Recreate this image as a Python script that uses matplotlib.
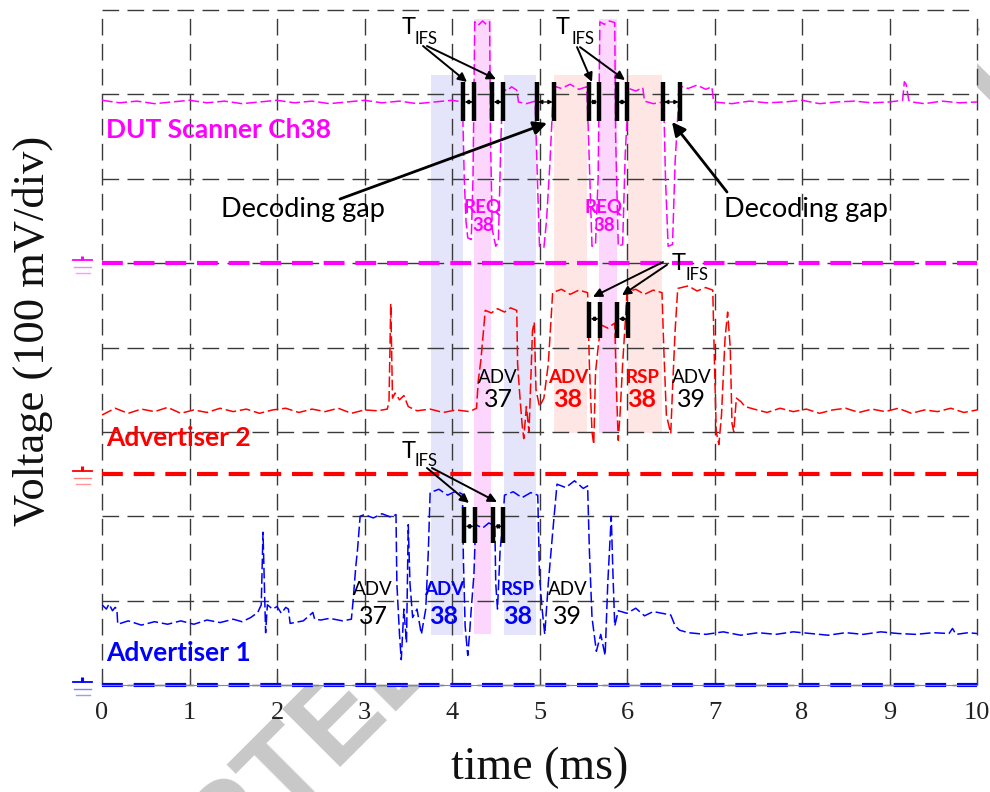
import matplotlib
matplotlib.use("Agg")
import matplotlib.pyplot as plt
from matplotlib.patches import Rectangle

# ---------------- data ----------------
time_ticks = [0, 1, 2, 3, 4, 5, 6, 7, 8, 9, 10]
n_div = 8

# ground reference levels (divisions)
dut_ground = 5.0
adv2_ground = 2.5
adv1_ground = 0.0

# DUT scanner (channel 38) trace, in divisions
dut_t = [0.00, 0.20, 0.40, 0.60, 0.80, 1.00, 1.20, 1.40, 1.60, 1.80, 2.00, 2.20, 2.40, 2.60, 2.80, 3.00, 3.20, 3.40, 3.60, 3.80, 4.00, 4.12,
         4.14, 4.16, 4.18, 4.22, 4.24, 4.26, 4.30, 4.35, 4.39, 4.43, 4.44, 4.46, 4.50, 4.53, 4.56, 4.58, 4.63, 4.68, 4.74, 4.76, 4.85, 4.95,
         4.97, 5.00, 5.05, 5.08, 5.12, 5.16, 5.25, 5.35, 5.45, 5.54, 5.56, 5.60, 5.64, 5.67, 5.69, 5.74, 5.80, 5.86, 5.87, 5.90, 5.95, 5.98, 6.02, 6.10, 6.18, 6.20, 6.30, 6.42,
         6.44, 6.47, 6.52, 6.55, 6.60, 6.70, 6.80, 6.90, 6.97, 6.99, 7.20, 7.40, 7.60, 7.80, 8.00, 8.20, 8.40, 8.60, 8.80, 9.00, 9.15, 9.17, 9.19, 9.22, 9.25, 9.40, 9.60, 9.80, 10.00]
dut_v = [6.93, 6.90, 6.92, 6.89, 6.91, 6.93, 6.90, 6.92, 6.89, 6.91, 6.93, 6.90, 6.92, 6.89, 6.91, 6.93, 6.90, 6.92, 6.89, 6.91, 6.93, 6.91,
         6.00, 5.50, 5.30, 5.28, 6.00, 7.86, 7.82, 7.87, 7.83, 7.86, 6.50, 5.40, 5.20, 5.25, 6.50, 7.07, 7.04, 7.09, 7.05, 6.91, 6.89, 6.92,
         6.20, 5.20, 5.18, 5.50, 6.20, 7.10, 7.07, 7.12, 7.06, 7.09, 6.50, 5.20, 5.22, 6.00, 7.86, 7.83, 7.87, 7.85, 6.50, 5.20, 5.22, 6.30, 7.07, 7.04, 7.08, 6.92, 6.89, 6.91,
         6.00, 5.20, 5.22, 6.20, 7.10, 7.07, 7.11, 7.06, 7.09, 6.91, 6.89, 6.92, 6.90, 6.91, 6.93, 6.89, 6.91, 6.92, 6.90, 6.91, 6.93, 7.15, 7.12, 6.93, 6.91, 6.89, 6.92, 6.90, 6.91]

# Advertiser 2 trace
adv2_t = [0.00, 0.15, 0.30, 0.45, 0.60, 0.75, 0.90, 1.05, 1.20, 1.35, 1.50, 1.65, 1.80, 1.95, 2.10, 2.25, 2.40, 2.55, 2.70, 2.85, 3.00, 3.15, 3.26,
          3.28, 3.30, 3.32, 3.35, 3.40, 3.45, 3.50, 3.60, 3.75, 3.90, 4.05, 4.20, 4.28, 4.30, 4.33, 4.36, 4.38, 4.45, 4.52, 4.60, 4.67, 4.74,
          4.75, 4.77, 4.80, 4.82, 4.85, 4.88, 4.92, 4.94, 4.96, 5.00, 5.05, 5.10, 5.13, 5.15, 5.25, 5.35, 5.45, 5.55, 5.57, 5.60, 5.62, 5.64, 5.67, 5.70, 5.78, 5.86,
          5.88, 5.90, 5.92, 5.95, 5.98, 6.00, 6.10, 6.20, 6.30, 6.40, 6.42, 6.45, 6.50, 6.52, 6.55, 6.58, 6.70, 6.80, 6.90, 6.98,
          7.00, 7.02, 7.05, 7.08, 7.12, 7.15, 7.18, 7.20, 7.22, 7.25, 7.30, 7.35, 7.45, 7.60, 7.75, 7.90, 8.05, 8.20, 8.35, 8.50, 8.65, 8.80, 8.95, 9.10, 9.25, 9.40, 9.55, 9.70, 9.85, 10.00]
adv2_v = [3.20, 3.28, 3.22, 3.27, 3.24, 3.29, 3.22, 3.26, 3.23, 3.28, 3.24, 3.27, 3.22, 3.26, 3.28, 3.23, 3.27, 3.24, 3.28, 3.22, 3.26, 3.25, 3.27,
          3.35, 4.52, 3.40, 3.46, 3.38, 3.43, 3.30, 3.25, 3.27, 3.23, 3.26, 3.24, 3.28, 3.60, 3.85, 4.20, 4.44, 4.41, 4.46, 4.42, 4.47, 4.44,
          3.80, 3.50, 3.10, 2.92, 3.30, 3.00, 4.20, 4.30, 3.50, 3.30, 3.40, 3.80, 4.30, 4.65, 4.69, 4.63, 4.68, 4.65, 3.80, 3.00, 2.85, 3.70, 4.00, 4.27, 4.23, 4.29,
          3.50, 2.90, 3.20, 3.80, 4.30, 4.66, 4.69, 4.63, 4.68, 4.65, 4.00, 3.20, 2.98, 3.50, 4.20, 4.70, 4.73, 4.67, 4.71, 4.68,
          3.80, 3.00, 2.85, 3.20, 4.10, 4.42, 4.00, 3.10, 3.00, 3.40, 3.36, 3.30, 3.27, 3.23, 3.28, 3.24, 3.27, 3.22, 3.26, 3.28, 3.23, 3.27, 3.24, 3.28, 3.22, 3.26, 3.24, 3.28, 3.23, 3.26]

# Advertiser 1 trace
adv1_t = [0.00, 0.05, 0.08, 0.12, 0.15, 0.17, 0.18, 0.30, 0.45, 0.60, 0.75, 0.90, 1.05, 1.20, 1.35, 1.50, 1.60, 1.70, 1.78, 1.82,
          1.84, 1.86, 1.87, 1.89, 1.95, 2.00, 2.05, 2.10, 2.13, 2.15, 2.30, 2.41, 2.43, 2.50, 2.60, 2.75, 2.85,
          2.87, 2.90, 2.92, 2.95, 3.00, 3.10, 3.20, 3.30, 3.36, 3.37, 3.40, 3.42, 3.45, 3.48, 3.50, 3.52, 3.55, 3.60, 3.65, 3.70, 3.73,
          3.75, 3.85, 3.95, 4.05, 4.12, 4.13, 4.15, 4.18, 4.20, 4.22, 4.25, 4.27, 4.35, 4.42, 4.49, 4.50, 4.52, 4.55, 4.58,
          4.60, 4.70, 4.80, 4.90, 4.98, 5.00, 5.03, 5.06, 5.10, 5.15, 5.20, 5.30, 5.40, 5.50, 5.55, 5.57, 5.60, 5.65, 5.70, 5.75, 5.78, 5.82, 5.84, 5.86,
          5.90, 6.00, 6.10, 6.20, 6.30, 6.40, 6.50, 6.55, 6.60, 6.70, 6.90, 7.10, 7.30, 7.50, 7.70, 7.90, 8.10, 8.30, 8.50, 8.70, 8.90, 9.10, 9.30, 9.50, 9.68, 9.72, 9.76, 9.90, 10.00]
adv1_v = [0.95, 0.90, 0.96, 0.88, 0.92, 0.90, 0.72, 0.76, 0.71, 0.75, 0.72, 0.76, 0.72, 0.77, 0.74, 0.78, 0.75, 0.80, 0.86, 0.95,
          1.81, 1.00, 0.62, 0.95, 0.90, 0.93, 0.85, 0.92, 0.90, 0.73, 0.76, 0.86, 0.78, 0.77, 0.79, 0.76, 0.78,
          1.00, 1.40, 1.60, 2.00, 2.02, 1.98, 2.03, 1.99, 2.02, 1.20, 0.60, 0.30, 0.90, 0.50, 1.90, 1.20, 0.80, 0.90, 0.60, 0.90, 1.60,
          2.28, 2.32, 2.25, 2.30, 2.26, 1.50, 0.70, 0.35, 0.60, 0.90, 1.30, 1.90, 1.86, 1.92, 1.89, 1.20, 0.90, 1.60, 1.90,
          2.25, 2.29, 2.22, 2.28, 2.25, 1.30, 0.90, 0.60, 1.20, 1.80, 2.38, 2.34, 2.42, 2.33, 2.36, 1.60, 0.80, 0.40, 0.60, 0.35, 1.20, 2.00, 1.30, 0.70,
          0.88, 0.85, 0.91, 0.82, 0.87, 0.85, 0.83, 0.70, 0.65, 0.62, 0.60, 0.63, 0.59, 0.62, 0.60, 0.63, 0.61, 0.59, 0.62, 0.60, 0.63, 0.61, 0.60, 0.62, 0.61, 0.67, 0.60, 0.62, 0.61]

# packet windows (ms)
adv1_windows = [(3.76, 4.12), (4.59, 4.96)]
req_windows = [(4.25, 4.45), (5.68, 5.89)]
adv2_windows = [(5.17, 5.54), (6.01, 6.40)]

# T_IFS / decoding-gap marker bar pairs (ms)
dut_gap_pairs = [(4.129, 4.255), (4.461, 4.587), (4.968, 5.166), (5.566, 5.677), (5.882, 6.003), (6.408, 6.606)]
adv2_gap_pairs = [(5.569, 5.691), (5.889, 6.015)]
adv1_gap_pairs = [(4.141, 4.263), (4.472, 4.587)]

# ---------------- figure ----------------
W, H = 990, 792
fig = plt.figure(figsize=(W / 100, H / 100), dpi=100)
ax = fig.add_axes([102 / W, 1 - 685 / H, 875 / W, 675 / H])
ax.set_xlim(0, 10)
ax.set_ylim(0, n_div)

SANS = "Lato"
SERIF = "Liberation Serif"
MAG, RED, BLUE = "#ff00ff", "#ff0000", "#0000ff"

# watermark behind the axes
fig.text(490 / W, 1 - 575 / H, "ACCEPTED MANUSCRIPT", rotation=45, rotation_mode="anchor",
         ha="center", va="center", fontsize=85, color="#c8c8c8", fontweight="bold",
         family="Liberation Sans", zorder=-5)

# grid (dashed)
grid_kw = dict(color="#3a3a3a", lw=1.0, ls=(0, (12, 6)), zorder=1, clip_on=False)
for yv in range(n_div + 1):
    ax.axhline(yv, **grid_kw)
for xv in time_ticks:
    ax.axvline(xv, **grid_kw)

# shaded packet windows
for a, b in adv1_windows:
    ax.add_patch(Rectangle((a, 0.593), b - a, 7.23 - 0.593, color="#e4e4fb", lw=0, zorder=0.5))
ax.add_patch(Rectangle((req_windows[0][0], 0.604), req_windows[0][1] - req_windows[0][0], 7.893 - 0.604,
                       color="#fcd6fc", lw=0, zorder=0.5))
ax.add_patch(Rectangle((req_windows[1][0], 2.987), req_windows[1][1] - req_windows[1][0], 7.893 - 2.987,
                       color="#fcd6fc", lw=0, zorder=0.5))
for a, b in adv2_windows:
    ax.add_patch(Rectangle((a, 2.987), b - a, 7.23 - 2.987, color="#fde6e3", lw=0, zorder=0.5))

# ground lines
for lvl, c in [(dut_ground, MAG), (adv2_ground, RED), (adv1_ground, BLUE)]:
    ax.axhline(lvl, color=c, lw=3, ls=(0, (5, 2.6)), zorder=2.5, clip_on=False)
    ax.plot([-0.223, -0.223], [lvl + 0.036, lvl + 0.09], color=c, lw=2.2, clip_on=False, solid_capstyle="butt")
    ax.plot([-0.331, -0.114], [lvl + 0.036] * 2, color=c, lw=1.3, clip_on=False)
    ax.plot([-0.32, -0.125], [lvl - 0.047] * 2, color=c, lw=1.0, alpha=0.5, clip_on=False)
    ax.plot([-0.30, -0.14], [lvl - 0.118] * 2, color=c, lw=1.0, alpha=0.4, clip_on=False)

# traces
tr_kw = dict(lw=1.1, ls=(0, (7, 2.5)), zorder=3)
ax.plot(dut_t, dut_v, color=MAG, **tr_kw)
ax.plot(adv2_t, adv2_v, color=RED, **tr_kw)
ax.plot(adv1_t, adv1_v, color=BLUE, **tr_kw)

# marker bars + double arrows
def gap_marks(pairs, ylo, yhi, yarrow):
    for a, b in pairs:
        for xx in (a, b):
            ax.plot([xx, xx], [ylo, yhi], color="k", lw=3.2, solid_capstyle="butt", zorder=5)
        ax.annotate("", xy=(b, yarrow), xytext=(a, yarrow),
                    arrowprops=dict(arrowstyle="<|-|>", color="k", lw=0.9, mutation_scale=6,
                                    shrinkA=1, shrinkB=1), zorder=5)

gap_marks(dut_gap_pairs, 6.68, 7.15, 6.91)
gap_marks(adv2_gap_pairs, 4.113, 4.539, 4.34)
gap_marks(adv1_gap_pairs, 1.683, 2.11, 1.88)

# T_IFS labels with arrows
def tifs(tx, ty, sx, sy, arrows):
    ax.text(tx, ty, "T", fontsize=17, family=SANS, ha="center", va="center", zorder=6)
    ax.text(sx, sy, "IFS", fontsize=12, family=SANS, ha="left", va="center", zorder=6)
    for (x0, y0), (x1, y1) in arrows:
        ax.annotate("", xy=(x1, y1), xytext=(x0, y0),
                    arrowprops=dict(arrowstyle="-|>", color="k", lw=1.4, mutation_scale=13,
                                    shrinkA=0, shrinkB=0), zorder=6)

tifs(3.50, 7.79, 3.577, 7.66, [((3.669, 7.573), (4.171, 7.147)), ((3.714, 7.573), (4.503, 7.18))])
tifs(5.27, 7.79, 5.37, 7.66, [((5.429, 7.56), (5.60, 7.147)), ((5.463, 7.56), (5.977, 7.17))])
tifs(6.59, 5.00, 6.674, 4.86, [((6.411, 5.013), (5.611, 4.60)), ((6.457, 4.98), (5.943, 4.62))])
tifs(3.50, 2.767, 3.577, 2.66, [((3.714, 2.572), (4.194, 2.157)), ((3.771, 2.572), (4.514, 2.169))])

# decoding gap labels
ax.text(2.30, 5.63, "Decoding gap", fontsize=19.5, family=SANS, ha="center", va="center", zorder=6)
ax.text(8.05, 5.63, "Decoding gap", fontsize=19.5, family=SANS, ha="center", va="center", zorder=6)
for (x0, y0), (x1, y1) in [((2.72, 5.76), (5.086, 6.66)), ((7.143, 5.843), (6.514, 6.673))]:
    ax.annotate("", xy=(x1, y1), xytext=(x0, y0),
                arrowprops=dict(arrowstyle="-|>", color="k", lw=2.0, mutation_scale=20,
                                shrinkA=0, shrinkB=0), zorder=6)

# trace names
ax.text(0.046, 6.578, "DUT Scanner Ch38", color=MAG, fontsize=19, fontweight="bold", family=SANS, va="center", zorder=6)
ax.text(0.046, 2.927, "Advertiser 2", color=RED, fontsize=19, fontweight="bold", family=SANS, va="center", zorder=6)
ax.text(0.046, 0.379, "Advertiser 1", color=BLUE, fontsize=19, fontweight="bold", family=SANS, va="center", zorder=6)

# packet labels
def pkt(x, y_top, y_bot, name, num, color, bold, s1=13.5, s2=18):
    w = "bold" if bold else "normal"
    ax.text(x, y_top, name, color=color, fontsize=s1, fontweight=w, family=SANS, ha="center", va="center", zorder=6)
    ax.text(x, y_bot, num, color=color, fontsize=s2, fontweight=w, family=SANS, ha="center", va="center", zorder=6)

pkt(4.354, 5.665, 5.45, "REQ", "38", MAG, True, 13.5, 13.5)
pkt(5.737, 5.665, 5.45, "REQ", "38", MAG, True, 13.5, 13.5)
pkt(4.526, 3.64, 3.378, "ADV", "37", "k", False)
pkt(5.326, 3.64, 3.378, "ADV", "38", RED, True)
pkt(6.171, 3.64, 3.378, "RSP", "38", RED, True)
pkt(6.737, 3.64, 3.378, "ADV", "39", "k", False)
pkt(3.10, 1.126, 0.806, "ADV", "37", "k", False)
pkt(3.91, 1.126, 0.806, "ADV", "38", BLUE, True)
pkt(4.75, 1.126, 0.806, "RSP", "38", BLUE, True)
pkt(5.32, 1.126, 0.806, "ADV", "39", "k", False)

# axes cosmetics
for s in ("top", "right", "left"):
    ax.spines[s].set_visible(False)
ax.spines["bottom"].set_color("#888888")
ax.spines["bottom"].set_linewidth(0.8)
ax.set_xticks(time_ticks)
ax.set_xticklabels([str(t) for t in time_ticks], family=SERIF, fontsize=19, color="#222222")
ax.tick_params(axis="x", direction="in", length=7, width=0.8, color="#444444", pad=12)
ax.set_yticks([])

fig.text(540 / W, 1 - 768 / H, "time (ms)", family=SERIF, fontsize=33, ha="center", va="center", color="#111111")
fig.text(33 / W, 1 - 331 / H, "Voltage (100 mV/div)", family=SERIF, fontsize=32, rotation=90,
         ha="center", va="center", color="#111111")

fig.savefig("out.png", dpi=100)
